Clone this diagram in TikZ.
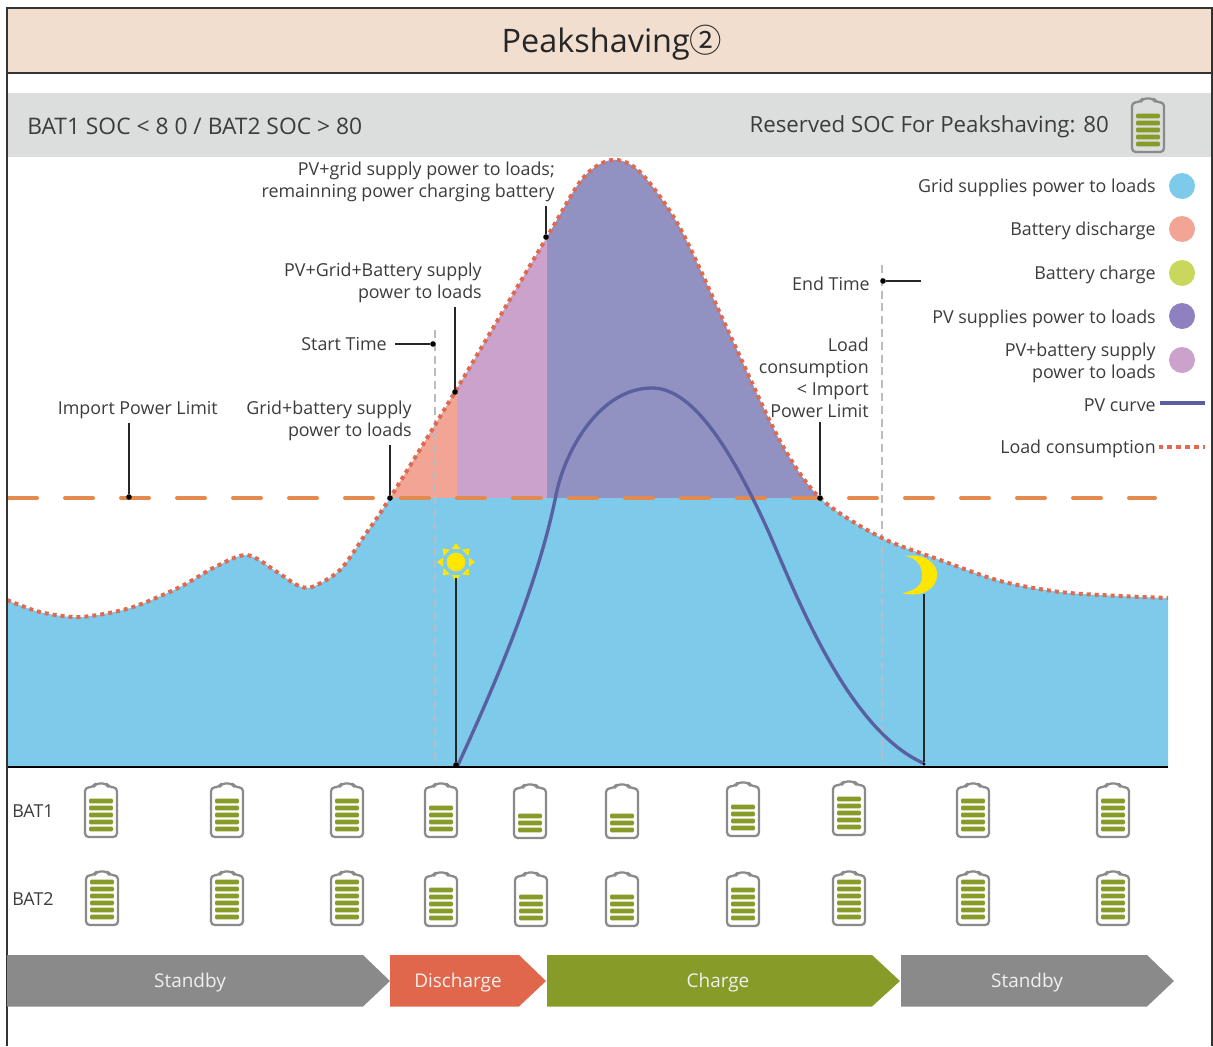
\documentclass[tikz,border=0pt]{standalone}
\usepackage{fontspec}
\setmainfont{Open Sans}
\newfontfamily\symfont{Noto Sans CJK JP}
\definecolor{txt}{HTML}{3C3C3C}
\definecolor{titlebg}{HTML}{F2DECF}
\definecolor{bandbg}{HTML}{DCDEDD}
\definecolor{gridc}{HTML}{7ECAEA}
\definecolor{disc}{HTML}{F3A595}
\definecolor{chgc}{HTML}{C9D85C}
\definecolor{pvc}{HTML}{9192C2}
\definecolor{pvlegend}{HTML}{8F80BF}
\definecolor{lilac}{HTML}{CBA2CB}
\definecolor{pvline}{HTML}{5A5F9F}
\definecolor{loadline}{HTML}{DF6A52}
\definecolor{limitline}{HTML}{E28A4F}
\definecolor{vline}{HTML}{B7BDC2}
\definecolor{battgrey}{HTML}{8A8A8A}
\definecolor{battgreen}{HTML}{879B28}
\definecolor{arrgrey}{HTML}{8A8A8A}
\definecolor{arrred}{HTML}{E0674B}
\definecolor{sunc}{HTML}{FFE600}
\tikzset{
  lbl/.style={text=txt,font=\fontsize{13.4}{16.6}\selectfont,inner sep=0pt,align=right,anchor=east},
  hdr/.style={text=txt,font=\fontsize{17.1}{20}\selectfont,inner sep=0pt},
  arrlbl/.style={text=white!94!black,font=\fontsize{14.2}{16.6}\selectfont,inner sep=0pt},
  legdot/.style={circle,minimum size=19.5pt,inner sep=0pt},
  dotm/.style={circle,fill=black,minimum size=4.2pt,inner sep=0pt},
  leader/.style={draw=black!85,line width=.9pt},
  loaddots/.style={draw=loadline,line width=3pt,dash pattern=on 3pt off 3pt},
  legenddots/.style={draw=loadline,line width=2.5pt,dash pattern=on 3.6pt off 3pt},
  pvstyle/.style={draw=pvline,line width=2.5pt},
  limitstyle/.style={draw=limitline,line width=3pt,line cap=round,dash pattern=on 21pt off 21pt},
  vdash/.style={draw=vline,line width=2pt,dash pattern=on 6pt off 3.6pt},
  frameline/.style={draw=black!80,line width=1.5pt},
  batt/.pic={
    \draw[battgrey,line width=1.7pt,rounded corners=2.8pt,line join=round]
      (-16,54) -- (-16,4.500) -- (-7.500,4) -- (-5.500,.5) -- (5.500,.5) -- (7.500,4) -- (16,4.500) -- (16,54) -- cycle;
    \foreach \i in {1,...,#1}{
      \fill[battgreen,rounded corners=.9pt] (-12,{46-7*(\i-1)-2.4}) rectangle (12,{46-7*(\i-1)+2.4});
    }
  }
}
\begin{document}
\begin{tikzpicture}[x=0.75pt,y=-0.75pt]
\useasboundingbox (0,0) rectangle (1213,1046);
\fill[white] (0,0) rectangle (1213,1046);
% title and band
\fill[titlebg] (7,8) rectangle (1212,73);
\fill[bandbg] (8,93) rectangle (1212,157);
\node[text=black!85,font=\fontsize{24.3}{28}\selectfont,inner sep=0pt] (title) at (612,43) {Peakshaving{\symfont ②}};
\node[hdr,anchor=west] (soc) at (27,126) {BAT1 SOC < 8 0 / BAT2 SOC > 80};
\node[hdr,anchor=east,font=\fontsize{16.7}{20}\selectfont] (res) at (1109,127) {Reserved SOC For Peakshaving: 80};
\pic (topbatt) at (1148,98) {batt=5};
% chart fills
\begin{scope}
  \clip (7,767) -- plot[smooth,tension=0.5] coordinates {(7,600) (40,612) (80,617) (130,608) (180,587) (215,567) (247,555) (277,572) (297,585) (312,587) (340,570) (365,535) (390,498) (455,392) (547,237) (583,178) (612,160) (640,172) (680,228) (730,335) (780,441) (820,498) (880,537) (940,560) (1000,581) (1060,592) (1120,596) (1168,598)} -- (1168,767) -- cycle;
  \fill[gridc] (0,140) rectangle (1213,767);
  \fill[disc] (385,140) rectangle (457,498);
  \fill[lilac] (457,140) rectangle (547,498);
  \fill[pvc] (547,140) rectangle (830,498);
\end{scope}
% guides
\coordinate (startTop) at (435,330);
\coordinate (startBot) at (435,767);
\coordinate (endTop) at (882,265);
\coordinate (endBot) at (882,767);
\draw[vdash] (startTop) -- (startBot);
\draw[vdash] (endTop) -- (endBot);
% limit, load, pv
\coordinate (limL) at (9,498);
\coordinate (limR) at (1155,498);
\draw[limitstyle] (limL) -- (limR);
\draw[loaddots] plot[smooth,tension=0.5] coordinates {(7,600) (40,612) (80,617) (130,608) (180,587) (215,567) (247,555) (277,572) (297,585) (312,587) (340,570) (365,535) (390,498) (455,392) (547,237) (583,178) (612,160) (640,172) (680,228) (730,335) (780,441) (820,498) (880,537) (940,560) (1000,581) (1060,592) (1120,596) (1168,598)};
\draw[pvstyle,line cap=round] (458,765) .. controls (490,695) and (537,590) .. (556,495) .. controls (565,450) and (600,388) .. (652,388) .. controls (690,388) and (728,441) .. (770,535) .. controls (800,605) and (850,730) .. (923,763);
% baseline
\coordinate (baseL) at (7,767);
\coordinate (baseR) at (1168,767);
\draw[black,line width=1.8pt] (baseL) -- (baseR);
% frame
\coordinate (fTL) at (7,8); \coordinate (fTR) at (1212,8);
\coordinate (fBL) at (7,1046); \coordinate (fBR) at (1212,1046);
\coordinate (tL) at (7,73); \coordinate (tR) at (1212,73);
\draw[frameline] (fBL) -- (fTL) -- (fTR) -- (fBR);
\draw[frameline] (tL) -- (tR);
% labels
\node[lbl] (lImport) at (218,410) {Import Power Limit};
\node[lbl] (lGB) at (412,421) {Grid+battery supply\\power to loads};
\node[lbl] (lPGB) at (482,283) {PV+Grid+Battery supply\\power to loads};
\node[lbl] (lStart) at (387,344) {Start Time};
\node[lbl] (lPG) at (555,182) {PV+grid supply power to loads;\\remainning power charging battery};
\node[lbl] (lEnd) at (870,284) {End Time};
\node[lbl] (lLoadC) at (869,377.500) {Load\\consumption\\< Import\\Power Limit};
% dots and leaders
\node[dotm] (dImport) at (129,497) {};
\node[dotm] (dGB) at (390,498) {};
\node[dotm] (dPGB) at (455,392) {};
\node[dotm] (dStart) at (433,344) {};
\node[dotm] (dPG) at (546,237) {};
\node[dotm] (dEnd) at (883,281) {};
\node[dotm] (dLoadC) at (820,498) {};
\node[dotm] (dSun) at (456,765) {};
\node[dotm,minimum size=2.5pt] (dMoon) at (924,764) {};
\coordinate (eStart) at (395,344);
\coordinate (eEnd) at (921,281);
\draw[leader,shorten >=3pt] (dImport) -- (dImport |- lImport.south);
\draw[leader,shorten >=3pt] (dGB) -- (dGB |- lGB.south);
\draw[leader,shorten >=3pt] (dPGB) -- (dPGB |- lPGB.south);
\draw[leader] (dStart) -- (eStart);
\draw[leader,shorten >=3pt] (dPG) -- (dPG |- lPG.south);
\draw[leader] (dEnd) -- (eEnd);
\draw[leader,shorten >=3pt] (dLoadC) -- (dLoadC |- lLoadC.south);
% sun
\foreach \a in {0,45,...,315}{
  \fill[sunc,shift={(456,562)},rotate=\a] (13,-4.500) -- (19,0) -- (13,4.500) -- cycle;
}
\node[circle,fill=sunc,minimum size=14pt,inner sep=0pt] (sun) at (456,562) {};
\coordinate (sunB) at (456,578);
\draw[leader] (dSun) -- (sunB);
% moon
\fill[sunc] (905,556) .. controls (925,553) and (938,564) .. (937,575) .. controls (937,590) and (920,598) .. (902,593) .. controls (915,591) and (923,585) .. (922,575) .. controls (922,566) and (917,558) .. (905,556) -- cycle;
\coordinate (moonB) at (924,594);
\draw[leader] (dMoon) -- (moonB);
% legend
\node[lbl] (t1) at (1156,188) {Grid supplies power to loads};
\node[lbl] (t2) at (1156,231) {Battery discharge};
\node[lbl] (t3) at (1156,275) {Battery charge};
\node[lbl] (t4) at (1156,319) {PV supplies power to loads};
\node[lbl] (t5) at (1156,363) {PV+battery supply\\power to loads};
\node[lbl] (t6) at (1156,405) {PV curve};
\node[lbl] (t7) at (1156,449) {Load consumption};
\node[legdot,fill=gridc] (c1) at (1182,186) {};
\node[legdot,fill=disc] (c2) at (1182,229) {};
\node[legdot,fill=chgc] (c3) at (1182,273) {};
\node[legdot,fill=pvlegend] (c4) at (1182,316) {};
\node[legdot,fill=lilac] (c5) at (1182,360) {};
\coordinate (pvEnd) at (1205,403);
\coordinate (loadEnd) at (1205,447);
\draw[pvstyle,shorten <=3pt] (t6.east |- pvEnd) -- (pvEnd);
\draw[legenddots,shorten <=2pt] (t7.east |- loadEnd) -- (loadEnd);
% batteries
\node[lbl,anchor=west] (bat1) at (12,811) {BAT1};
\node[lbl,anchor=west] (bat2) at (12,899) {BAT2};
\foreach \x/\y/\n [count=\k] in {101/783/5,227/783/5,347/783/5,441/783/4,530/784/3,622/784/3,743/782/4,849/781/5,973/783/5,1113/783/5}{
  \pic (ba\k) at (\x,\y) {batt=\n};
}
\foreach \x/\y/\n [count=\k] in {102/871/6,227/871/6,347/871/6,441/872/5,531/872/4,622/872/4,743/872/5,849/871/6,973/871/6,1113/871/6}{
  \pic (bb\k) at (\x,\y) {batt=\n};
}
% state arrows
\fill[arrgrey] (7,955) -- (363,955) -- (390,981) -- (363,1006.500) -- (7,1006.500) -- cycle;
\fill[arrred] (390,955) -- (519,955) -- (546,981) -- (519,1006.500) -- (390,1006.500) -- cycle;
\fill[battgreen] (547,955) -- (872,955) -- (900,981) -- (872,1006.500) -- (547,1006.500) -- cycle;
\fill[arrgrey] (901,955) -- (1147,955) -- (1174,981) -- (1147,1006.500) -- (901,1006.500) -- cycle;
\node[arrlbl] (s1) at (190,983) {Standby};
\node[arrlbl] (s2) at (458,983) {Discharge};
\node[arrlbl] (s3) at (718,983) {Charge};
\node[arrlbl] (s4) at (1027,983) {Standby};
\end{tikzpicture}
\end{document}
